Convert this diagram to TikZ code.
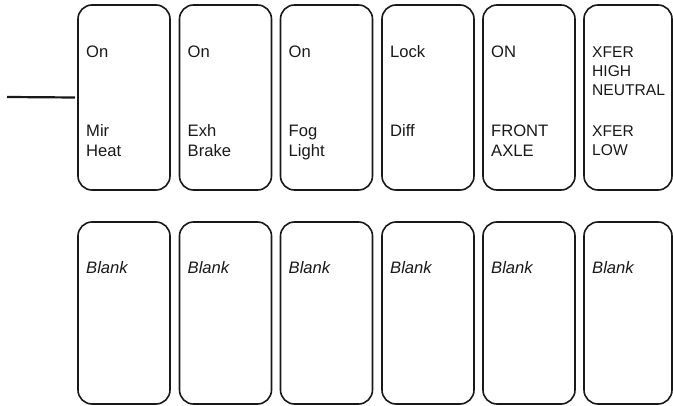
\documentclass[tikz,border=0pt]{standalone}
\usepackage{fontspec}
\setmainfont{Liberation Sans}
\begin{document}
\begin{tikzpicture}[x=1pt,y=-1pt,
  keybox/.style={draw=black!90, line width=1.6pt, rounded corners=14pt,
    inner sep=0pt, outer sep=0pt, anchor=north west, minimum width=92pt},
  toprow/.style={minimum height=185pt},
  botrow/.style={minimum height=182pt},
  lbl/.style={anchor=base west, inner sep=0pt, align=left, text=black!90,
    font=\fontsize{16.6}{19.5}\selectfont},
  caps/.style={font=\fontsize{15.6}{19}\selectfont},
  blank/.style={lbl, font=\fontsize{16.6}{19.5}\selectfont\itshape},
  lead/.style={draw=black!90, line width=2.2pt}
]
\useasboundingbox (0,0) rectangle (673,406);
% top row
\node[keybox,toprow] (b1) at (78,5) {};
\node[keybox,toprow] (b2) at (179.5,5) {};
\node[keybox,toprow] (b3) at (280.5,5) {};
\node[keybox,toprow] (b4) at (382,5) {};
\node[keybox,toprow] (b5) at (483,5) {};
\node[keybox,toprow,minimum width=88pt] (b6) at (584,5) {};
% bottom row
\node[keybox,botrow] (c1) at (78,222) {};
\node[keybox,botrow] (c2) at (179.5,222) {};
\node[keybox,botrow] (c3) at (280.5,222) {};
\node[keybox,botrow] (c4) at (382,222) {};
\node[keybox,botrow] (c5) at (483,222) {};
\node[keybox,botrow,minimum width=88pt] (c6) at (584,222) {};
% top labels (anchor = baseline of last line)
\node[lbl] (u1) at (86,58) {On};
\node[lbl] (u2) at (187.5,58) {On};
\node[lbl] (u3) at (288.5,58) {On};
\node[lbl] (u4) at (390,58) {Lock};
\node[lbl] (u5) at (491,58) {ON};
\node[lbl,caps] (u6) at (592,96) {XFER\\HIGH\\NEUTRAL};
% lower labels
\node[lbl] (l1) at (86,156.5) {Mir\\Heat};
\node[lbl] (l2) at (187.5,156.5) {Exh\\Brake};
\node[lbl] (l3) at (288.5,156.5) {Fog\\Light};
\node[lbl] (l4) at (390,137) {Diff};
\node[lbl] (l5) at (491,156.5) {FRONT\\AXLE};
\node[lbl,caps] (l6) at (592,156) {XFER\\LOW};
% blank labels
\node[blank] (k1) at (86,274) {Blank};
\node[blank] (k2) at (187.5,274) {Blank};
\node[blank] (k3) at (288.5,274) {Blank};
\node[blank] (k4) at (390,274) {Blank};
\node[blank] (k5) at (491,274) {Blank};
\node[blank] (k6) at (592,274) {Blank};
% lead line
\coordinate (ls) at (7,97);
\draw[lead] (ls) -- ([xshift=-3pt]b1.west);
\end{tikzpicture}
\end{document}
